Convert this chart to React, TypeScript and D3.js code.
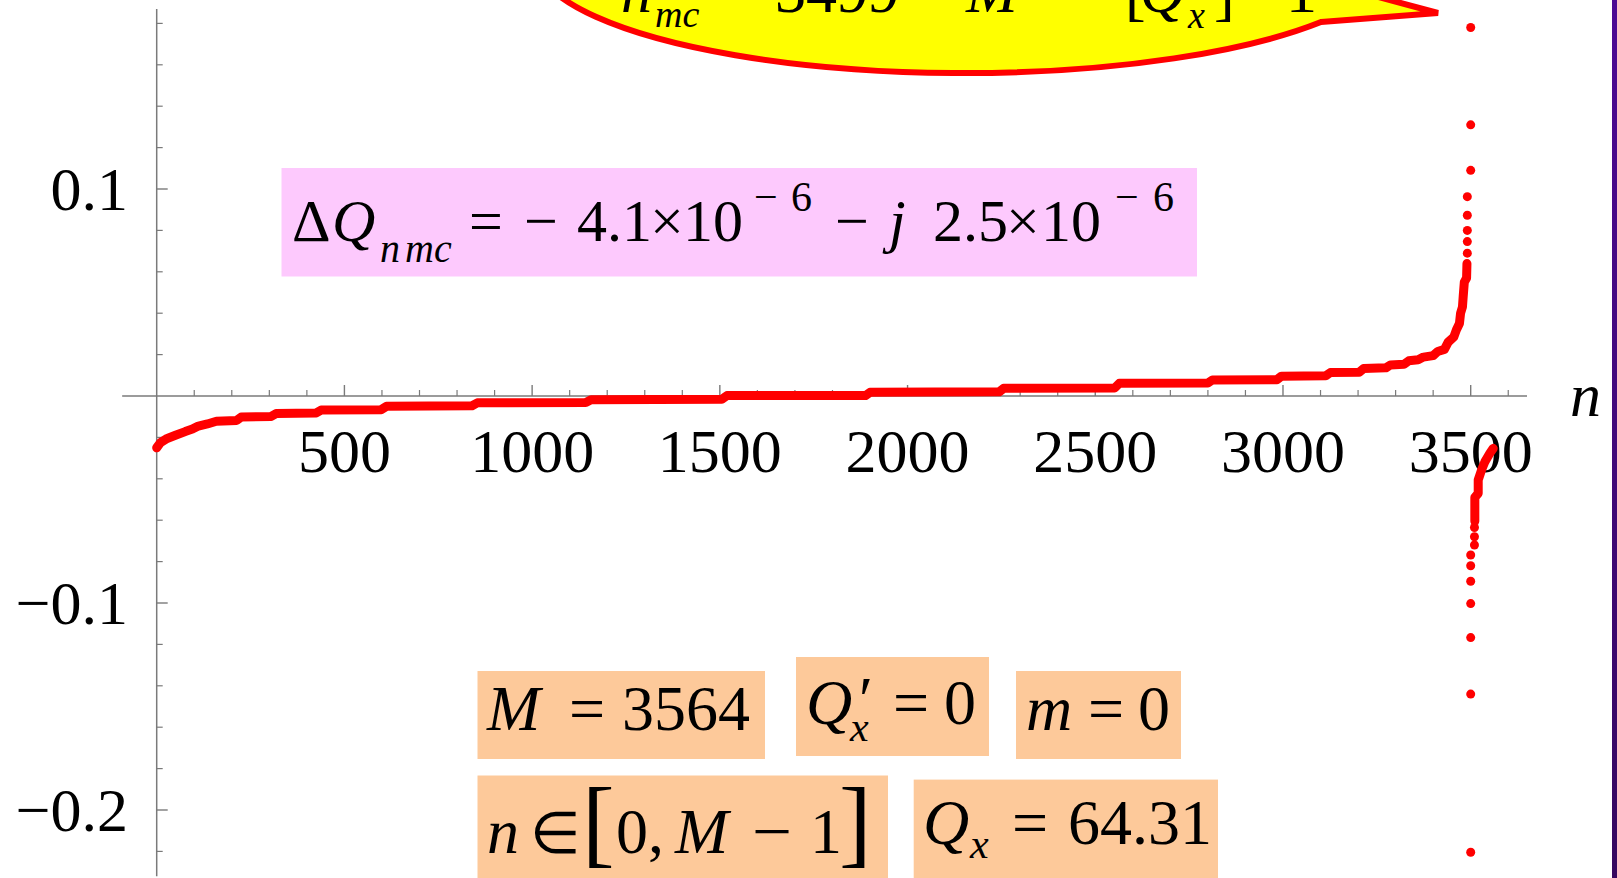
import React from 'react';
import * as d3 from 'd3';

const W = 1617;
const H = 878;

// sorted spectrum, main staircase (n, value)
const curveN = [0, 10, 28, 50, 76, 95, 111, 135, 159, 213, 225, 305, 318, 425, 438, 598, 612, 840, 854, 1143, 1157, 1505, 1519, 1888, 1900, 2244, 2256, 2552, 2564, 2800, 2812, 2984, 2996, 3114, 3126, 3203, 3215, 3274, 3286, 3322, 3335, 3360, 3374, 3400, 3412, 3430, 3440, 3455, 3462, 3470, 3473, 3478, 3480, 3483, 3489, 3490];
const curveV = [-0.025, -0.0225, -0.0205, -0.019, -0.0172, -0.016, -0.0145, -0.0135, -0.0122, -0.0118, -0.0102, -0.0099, -0.0085, -0.0082, -0.0068, -0.0066, -0.005, -0.0047, -0.0033, -0.0031, -0.0018, -0.0016, 0.0002, 0.0002, 0.0018, 0.002, 0.0037, 0.0039, 0.0061, 0.0063, 0.0077, 0.0079, 0.0096, 0.0098, 0.0113, 0.0115, 0.0133, 0.0136, 0.015, 0.0153, 0.017, 0.0175, 0.0188, 0.0195, 0.0215, 0.0225, 0.026, 0.0285, 0.032, 0.035, 0.04, 0.043, 0.048, 0.055, 0.057, 0.064];

// isolated points above the staircase
const upN = [3491, 3491, 3491, 3491, 3491, 3500, 3500, 3500];
const upV = [0.069, 0.0746, 0.08, 0.0873, 0.0963, 0.109, 0.131, 0.178];

// negative branch, dense part
const negN = [3511, 3511, 3520, 3520, 3529, 3538, 3551, 3560];
const negV = [-0.0605, -0.049, -0.047, -0.0406, -0.0357, -0.0317, -0.0277, -0.0253];

// negative branch, isolated points
const downN = [3500, 3500, 3500, 3500, 3500, 3500, 3500, 3510, 3510, 3510];
const downV = [-0.2204, -0.144, -0.1167, -0.1003, -0.0895, -0.082, -0.0768, -0.072, -0.068, -0.0635];

const xTicks = [500, 1000, 1500, 2000, 2500, 3000, 3500];
const yTicks = [0.1, -0.1, -0.2];
const yTickLabels = ['0.1', '\u22120.1', '\u22120.2'];

const serif = "'Liberation Serif','Times New Roman',Times,serif";
const RED = '#ff0000';
const AXIS = '#7a7a7a';

const x = d3.scaleLinear().domain([0, 3500]).range([156.7, 1470.7]);
const y = d3.scaleLinear().domain([0, 0.1]).range([396, 189]);

const T = ({ x, y, s = 62, it = false, children }: any) => (
  <text x={x} y={y} fontSize={s} fontStyle={it ? 'italic' : 'normal'} fontFamily={serif} fill="#000">
    {children}
  </text>
);

export default function App() {
  const line = d3.line<number>().x((_, i) => x(curveN[i])).y((v) => y(v));
  const negLine = d3.line<number>().x((_, i) => x(negN[i])).y((v) => y(v));

  const xMinor = d3.range(100, 3700, 100).filter((n) => n % 500 !== 0);
  const yMinor = d3.range(-0.22, 0.19, 0.02).map((v) => Math.round(v * 100) / 100).filter((v) => Math.abs(v) > 1e-9 && Math.round(v * 100) % 10 !== 0);
  const x0 = x(0);
  const y0 = y(0);

  return (
    <svg width={W} height={H} style={{ position: 'absolute', left: 0, top: 0, background: '#fff' }}>
      <defs>
        <linearGradient id="edge" x1="0" y1="0" x2="0" y2="1">
          <stop offset="0" stopColor="#4d0a94" />
          <stop offset="1" stopColor="#36085f" />
        </linearGradient>
      </defs>
      <rect x={0} y={0} width={W} height={H} fill="#fff" />

      {/* speech bubble, mostly above the frame */}
      <path d="M 1321 22 L 1438 13 L 1371 -5 A 430 116 0 1 0 1321 22 Z" fill="#ffff00" stroke={RED} strokeWidth={6} strokeLinejoin="miter" />
      <g>
        <T x={621} y={12} it>n</T>
        <T x={655} y={27} s={38} it>mc</T>
        <T x={722} y={12}>=</T>
        <T x={775} y={12}>3499</T>
        <T x={909} y={12}>=</T>
        <T x={966} y={12} it>M</T>
        <T x={1062} y={12}>{'\u2212'}</T>
        <T x={1125} y={14}>[</T>
        <T x={1140} y={12} it>Q</T>
        <T x={1188} y={28} s={38} it>x</T>
        <T x={1214} y={14}>]</T>
        <T x={1236} y={12}>{'\u2212'}</T>
        <T x={1286} y={12}>1</T>
      </g>

      {/* pink formula box */}
      <rect x={281.5} y={168} width={915.5} height={108.5} fill="#fdc9fd" />
      <g>
        <T x={292} y={241} s={60}>{'\u0394'}</T>
        <T x={332} y={241} s={60} it>Q</T>
        <T x={380} y={262} s={40} it>n</T>
        <T x={405} y={262} s={40} it>mc</T>
        <T x={469} y={241} s={60}>=</T>
        <T x={524} y={241} s={60}>{'\u2212'}</T>
        <T x={577} y={241} s={60}>4.1</T>
        <T x={650} y={241} s={60}>{'\u00d7'}</T>
        <T x={683} y={241} s={60}>10</T>
        <T x={754} y={211} s={42}>{'\u2212'}</T>
        <T x={791} y={211} s={42}>6</T>
        <T x={835} y={241} s={60}>{'\u2212'}</T>
        <T x={889} y={241} s={60} it>j</T>
        <T x={933} y={241} s={60}>2.5</T>
        <T x={1006} y={241} s={60}>{'\u00d7'}</T>
        <T x={1041} y={241} s={60}>10</T>
        <T x={1115} y={211} s={42}>{'\u2212'}</T>
        <T x={1153} y={211} s={42}>6</T>
      </g>

      {/* axes */}
      <line x1={x0} x2={x0} y1={y(0.187)} y2={y(-0.232)} stroke={AXIS} strokeWidth={1.5} />
      <line x1={x(-92)} x2={x(3650)} y1={y0} y2={y0} stroke={AXIS} strokeWidth={1.5} />
      {xMinor.map((n) => (
        <line key={'xm' + n} x1={x(n)} x2={x(n)} y1={y0} y2={y0 - 6} stroke={AXIS} strokeWidth={1.2} />
      ))}
      {xTicks.map((n) => (
        <line key={'xM' + n} x1={x(n)} x2={x(n)} y1={y0} y2={y0 - 11} stroke={AXIS} strokeWidth={1.4} />
      ))}
      {yMinor.map((v) => (
        <line key={'ym' + v} x1={x0} x2={x0 + 6} y1={y(v)} y2={y(v)} stroke={AXIS} strokeWidth={1.2} />
      ))}
      {yTicks.map((v) => (
        <line key={'yM' + v} x1={x0} x2={x0 + 11} y1={y(v)} y2={y(v)} stroke={AXIS} strokeWidth={1.4} />
      ))}
      {xTicks.map((n) => (
        <text key={'xl' + n} x={x(n)} y={472} fontSize={62} fontFamily={serif} textAnchor="middle">{n}</text>
      ))}
      {yTicks.map((v, i) => (
        <text key={'yl' + v} x={128} y={y(v) + 21} fontSize={62} fontFamily={serif} textAnchor="end">{yTickLabels[i]}</text>
      ))}
      <T x={1570} y={416} it>n</T>

      {/* data */}
      <path d={line(curveV) || ''} fill="none" stroke={RED} strokeWidth={9} strokeLinejoin="round" strokeLinecap="round" />
      <path d={negLine(negV) || ''} fill="none" stroke={RED} strokeWidth={9} strokeLinejoin="round" strokeLinecap="round" />
      {upV.map((v, i) => (
        <circle key={'u' + i} cx={x(upN[i])} cy={y(v)} r={4.5} fill={RED} />
      ))}
      {downV.map((v, i) => (
        <circle key={'d' + i} cx={x(downN[i])} cy={y(v)} r={4.5} fill={RED} />
      ))}

      {/* parameter boxes */}
      <rect x={477.5} y={671} width={287.5} height={88} fill="#fdc99a" />
      <T x={487} y={730} s={64} it>M</T>
      <T x={569} y={730} s={64}>=</T>
      <T x={622} y={730} s={64}>3564</T>

      <rect x={796} y={657} width={193} height={99} fill="#fdc99a" />
      <T x={806} y={724} s={64} it>Q</T>
      <T x={855} y={721} s={64} it>{'\u2032'}</T>
      <T x={850} y={741} s={42} it>x</T>
      <T x={893} y={724} s={64}>=</T>
      <T x={944} y={724} s={64}>0</T>

      <rect x={1016} y={671} width={165} height={88} fill="#fdc99a" />
      <T x={1026} y={730} s={64} it>m</T>
      <T x={1088} y={730} s={64}>=</T>
      <T x={1138} y={730} s={64}>0</T>

      <rect x={477.5} y={775.5} width={410.5} height={102.5} fill="#fdc99a" />
      <T x={487} y={853} s={64} it>n</T>
      <T x={530} y={853} s={58}>{'\u2208'}</T>
      <T x={582} y={855} s={98}>[</T>
      <T x={616} y={853} s={64}>0,</T>
      <T x={675} y={853} s={64} it>M</T>
      <text x={752} y={853} fontSize={64} fontFamily={serif} textLength={40} lengthAdjust="spacingAndGlyphs">{'\u2212'}</text>
      <T x={810} y={853} s={64}>1</T>
      <T x={839} y={855} s={98}>]</T>

      <rect x={913.7} y={779.6} width={304.3} height={98.4} fill="#fdc99a" />
      <T x={923} y={844} s={64} it>Q</T>
      <T x={970} y={858} s={42} it>x</T>
      <T x={1012} y={844} s={64}>=</T>
      <T x={1068} y={844} s={64}>64.31</T>

      <rect x={1612} y={0} width={5} height={H} fill="url(#edge)" />
    </svg>
  );
}
